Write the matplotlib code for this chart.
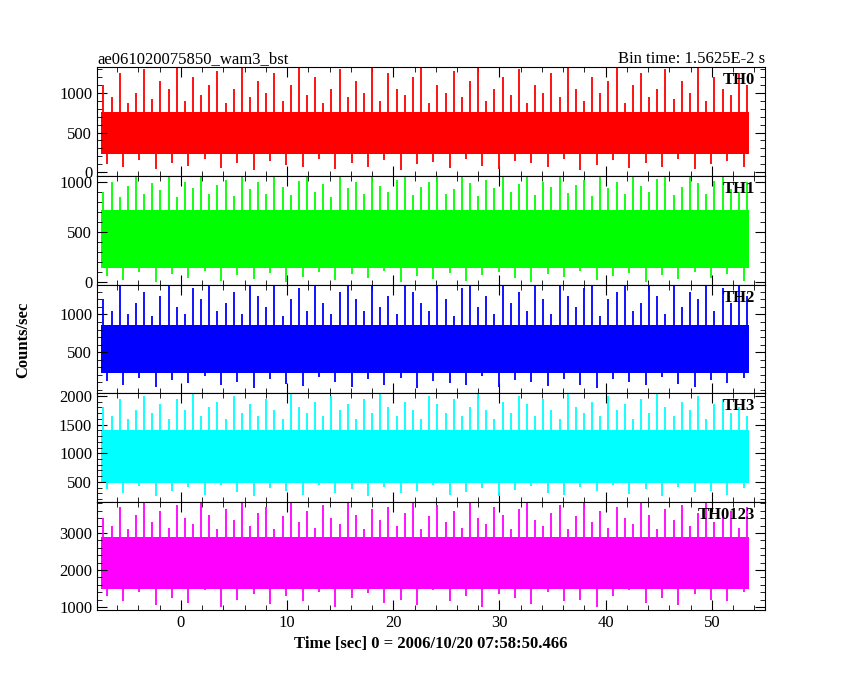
import numpy as np
import matplotlib.pyplot as plt
from matplotlib.ticker import AutoMinorLocator

plt.rcParams['font.family'] = ['Liberation Serif', 'DejaVu Serif']

names = ["TH0", "TH1", "TH2", "TH3", "TH0123"]
colors = ["#ff0000", "#00ff00", "#0000ff", "#00ffff", "#ff00ff"]
ylims = [(-50, 1330), (-30, 1060), (-40, 1390), (150, 2050), (920, 3840)]
yticks = [[0, 500, 1000], [0, 500, 1000], [500, 1000], [500, 1000, 1500, 2000],
          [1000, 2000, 3000]]

t_start, t_end = -7.5, 53.5
# dense band (low, high)
band_lo = [230, 140, 220, 480, 1500]
band_hi = [760, 720, 860, 1400, 2900]
# spike peaks, evenly spaced across the span (read approximately)
peaks = [
    [1100, 950, 1250, 880, 1000, 1300, 920, 1150, 1050, 1330, 900, 1200, 980, 1100, 1280,
     870, 1050, 1330, 950, 1150, 1000, 1250, 900, 1100, 1330, 980, 1200, 870, 1050, 1300,
     950, 1150, 1000, 1330, 900, 1250, 1050, 980, 1200, 1330, 880, 1100, 1000, 1280, 950,
     1150, 1330, 900, 1050, 1200, 980, 1300, 870, 1100, 1000, 1250, 950, 1330, 1050, 900,
     1200, 1000, 1150, 1330, 880, 1100, 1250, 950, 1050, 1300, 920, 1150, 1000, 1330, 900,
     1200, 1050, 980, 1250, 1100],
    [900, 1000, 850, 960, 1060, 880, 990, 920, 1060, 850, 1000, 940, 1060, 880, 970, 1020,
     860, 1060, 930, 1000, 880, 1060, 950, 870, 1010, 1060, 900, 980, 850, 1060, 940, 1000,
     880, 1060, 960, 900, 1020, 1060, 870, 950, 1000, 1060, 880, 930, 1060, 990, 860, 1020,
     940, 1060, 900, 980, 1060, 870, 1000, 950, 1060, 890, 970, 1020, 860, 1060, 940, 1000,
     880, 1060, 960, 900, 1030, 1060, 870, 950, 1060, 990, 880, 1010, 1060, 930, 900, 1000],
    [1200, 1050, 1390, 1000, 1150, 1300, 980, 1250, 1390, 1100, 1000, 1350, 1200, 1390,
     1050, 1150, 1300, 1000, 1390, 1250, 1100, 1390, 980, 1200, 1350, 1050, 1390, 1150,
     1000, 1300, 1390, 1200, 1050, 1390, 1100, 1250, 1000, 1390, 1300, 1150, 1050, 1390,
     1200, 980, 1350, 1390, 1100, 1250, 1000, 1390, 1150, 1300, 1050, 1390, 1200, 1000,
     1390, 1250, 1100, 1350, 1390, 980, 1200, 1300, 1390, 1050, 1150, 1390, 1250, 1000,
     1390, 1100, 1300, 1200, 1390, 1050, 1350, 1150, 1390, 1250],
    [1800, 1650, 1950, 1600, 1750, 2000, 1700, 1850, 1600, 1950, 1750, 2050, 1650, 1800,
     1900, 1600, 2000, 1700, 1850, 1650, 1950, 1750, 1600, 2050, 1800, 1700, 1900, 1650,
     2000, 1750, 1850, 1600, 1950, 1700, 2050, 1800, 1650, 1900, 1750, 1600, 2000, 1850,
     1700, 1950, 1650, 1800, 2050, 1750, 1600, 1900, 1700, 2000, 1850, 1650, 1950, 1750,
     1600, 2050, 1800, 1700, 1900, 1650, 2000, 1750, 1850, 1600, 1950, 1700, 2050, 1800,
     1650, 1900, 1750, 2000, 1600, 1850, 1950, 1700, 1800, 1650],
    [3400, 3200, 3700, 3100, 3500, 3800, 3300, 3600, 3150, 3750, 3400, 3250, 3800, 3500,
     3100, 3650, 3350, 3800, 3200, 3550, 3700, 3100, 3450, 3800, 3300, 3600, 3150, 3750,
     3400, 3250, 3800, 3500, 3100, 3650, 3350, 3700, 3200, 3550, 3800, 3100, 3450, 3750,
     3300, 3600, 3150, 3800, 3400, 3250, 3700, 3500, 3100, 3650, 3800, 3350, 3200, 3550,
     3750, 3100, 3450, 3800, 3300, 3600, 3150, 3700, 3400, 3250, 3800, 3500, 3100, 3650,
     3350, 3750, 3200, 3550, 3800, 3300, 3450, 3600, 3150, 3700],
]
troughs = [
    [100, 60, 150, 40, 120, 80, 170, 50, 110, 30, 140, 90, 60, 160, 40, 120, 70, 150, 30,
     100, 130, 50, 170, 80, 40, 140, 110, 60, 160, 30, 90, 150, 50, 120, 70, 170, 40, 100,
     140, 60],
    [60, 20, 100, 0, 80, 40, 110, 10, 70, 30, 90, 0, 50, 100, 20, 80, 40, 110, 0, 60, 30,
     90, 10, 70, 100, 40, 0, 80, 50, 110, 20, 60, 90, 0, 70, 30, 100, 40, 80, 10],
    [120, 70, 160, 40, 130, 90, 180, 60, 110, 30, 150, 80, 50, 170, 100, 40, 140, 70, 160,
     30, 120, 90, 60, 180, 40, 130, 100, 50, 150, 70, 20, 140, 110, 60, 170, 80, 40, 130,
     90, 160],
    [380, 300, 430, 260, 350, 410, 280, 440, 320, 250, 400, 340, 270, 450, 310, 380, 260,
     420, 300, 350, 440, 280, 330, 400, 250, 360, 430, 300, 270, 410, 340, 450, 290, 380,
     260, 420, 320, 350, 280, 400],
    [1300, 1150, 1400, 1050, 1250, 1100, 1450, 1000, 1200, 1350, 1080, 1300, 1150, 1420,
     1000, 1250, 1380, 1100, 1200, 1050, 1450, 1150, 1300, 1000, 1350, 1250, 1080, 1400,
     1150, 1200, 1000, 1300, 1450, 1100, 1250, 1050, 1350, 1200, 1150, 1400],
]

fig = plt.figure(figsize=(8.5, 6.8), dpi=100)
left, right = 97 / 850, 765 / 850
edges = [67, 176, 285, 393, 502, 610]
axes = []
for i in range(5):
    top = 1 - edges[i] / 680
    bot = 1 - edges[i + 1] / 680
    ax = fig.add_axes([left, bot, right - left, top - bot])
    axes.append(ax)
    c = colors[i]
    ax.fill_between([t_start, t_end], band_lo[i], band_hi[i], color=c, lw=0)
    xp = np.linspace(t_start + 0.2, t_end - 0.2, len(peaks[i]))
    ax.vlines(xp, band_hi[i] - 50, peaks[i], color=c, lw=1.3)
    xt = np.linspace(t_start + 0.5, t_end - 0.5, len(troughs[i]))
    ax.vlines(xt, troughs[i], band_lo[i] + 20, color=c, lw=1.3)
    ax.set_xlim(-7.9, 55.0)
    ax.set_ylim(*ylims[i])
    ax.set_yticks(yticks[i])
    ax.xaxis.set_minor_locator(AutoMinorLocator(5))
    ax.yaxis.set_minor_locator(AutoMinorLocator(5))
    ax.tick_params(which='both', direction='in', top=True, right=True, labelsize=12)
    ax.tick_params(which='major', length=7)
    ax.tick_params(which='minor', length=3.5)
    ax.text(0.985, 0.88, names[i], transform=ax.transAxes, ha='right', va='center',
            fontsize=12, fontweight='bold')
    if i < 4:
        ax.tick_params(labelbottom=False)
    ax.set_xticks([0, 10, 20, 30, 40, 50])

axes[0].set_title("ae061020075850_wam3_bst", loc='left', fontsize=12, pad=3)
axes[0].set_title("Bin time: 1.5625E-2 s", loc='right', fontsize=12, pad=3)
axes[4].set_xlabel("Time [sec] 0 = 2006/10/20 07:58:50.466", fontsize=12, fontweight='bold')
fig.text(0.018, 0.5, "Counts/sec", rotation=90, va='center', fontsize=12, fontweight='bold')

plt.savefig("out.png")
